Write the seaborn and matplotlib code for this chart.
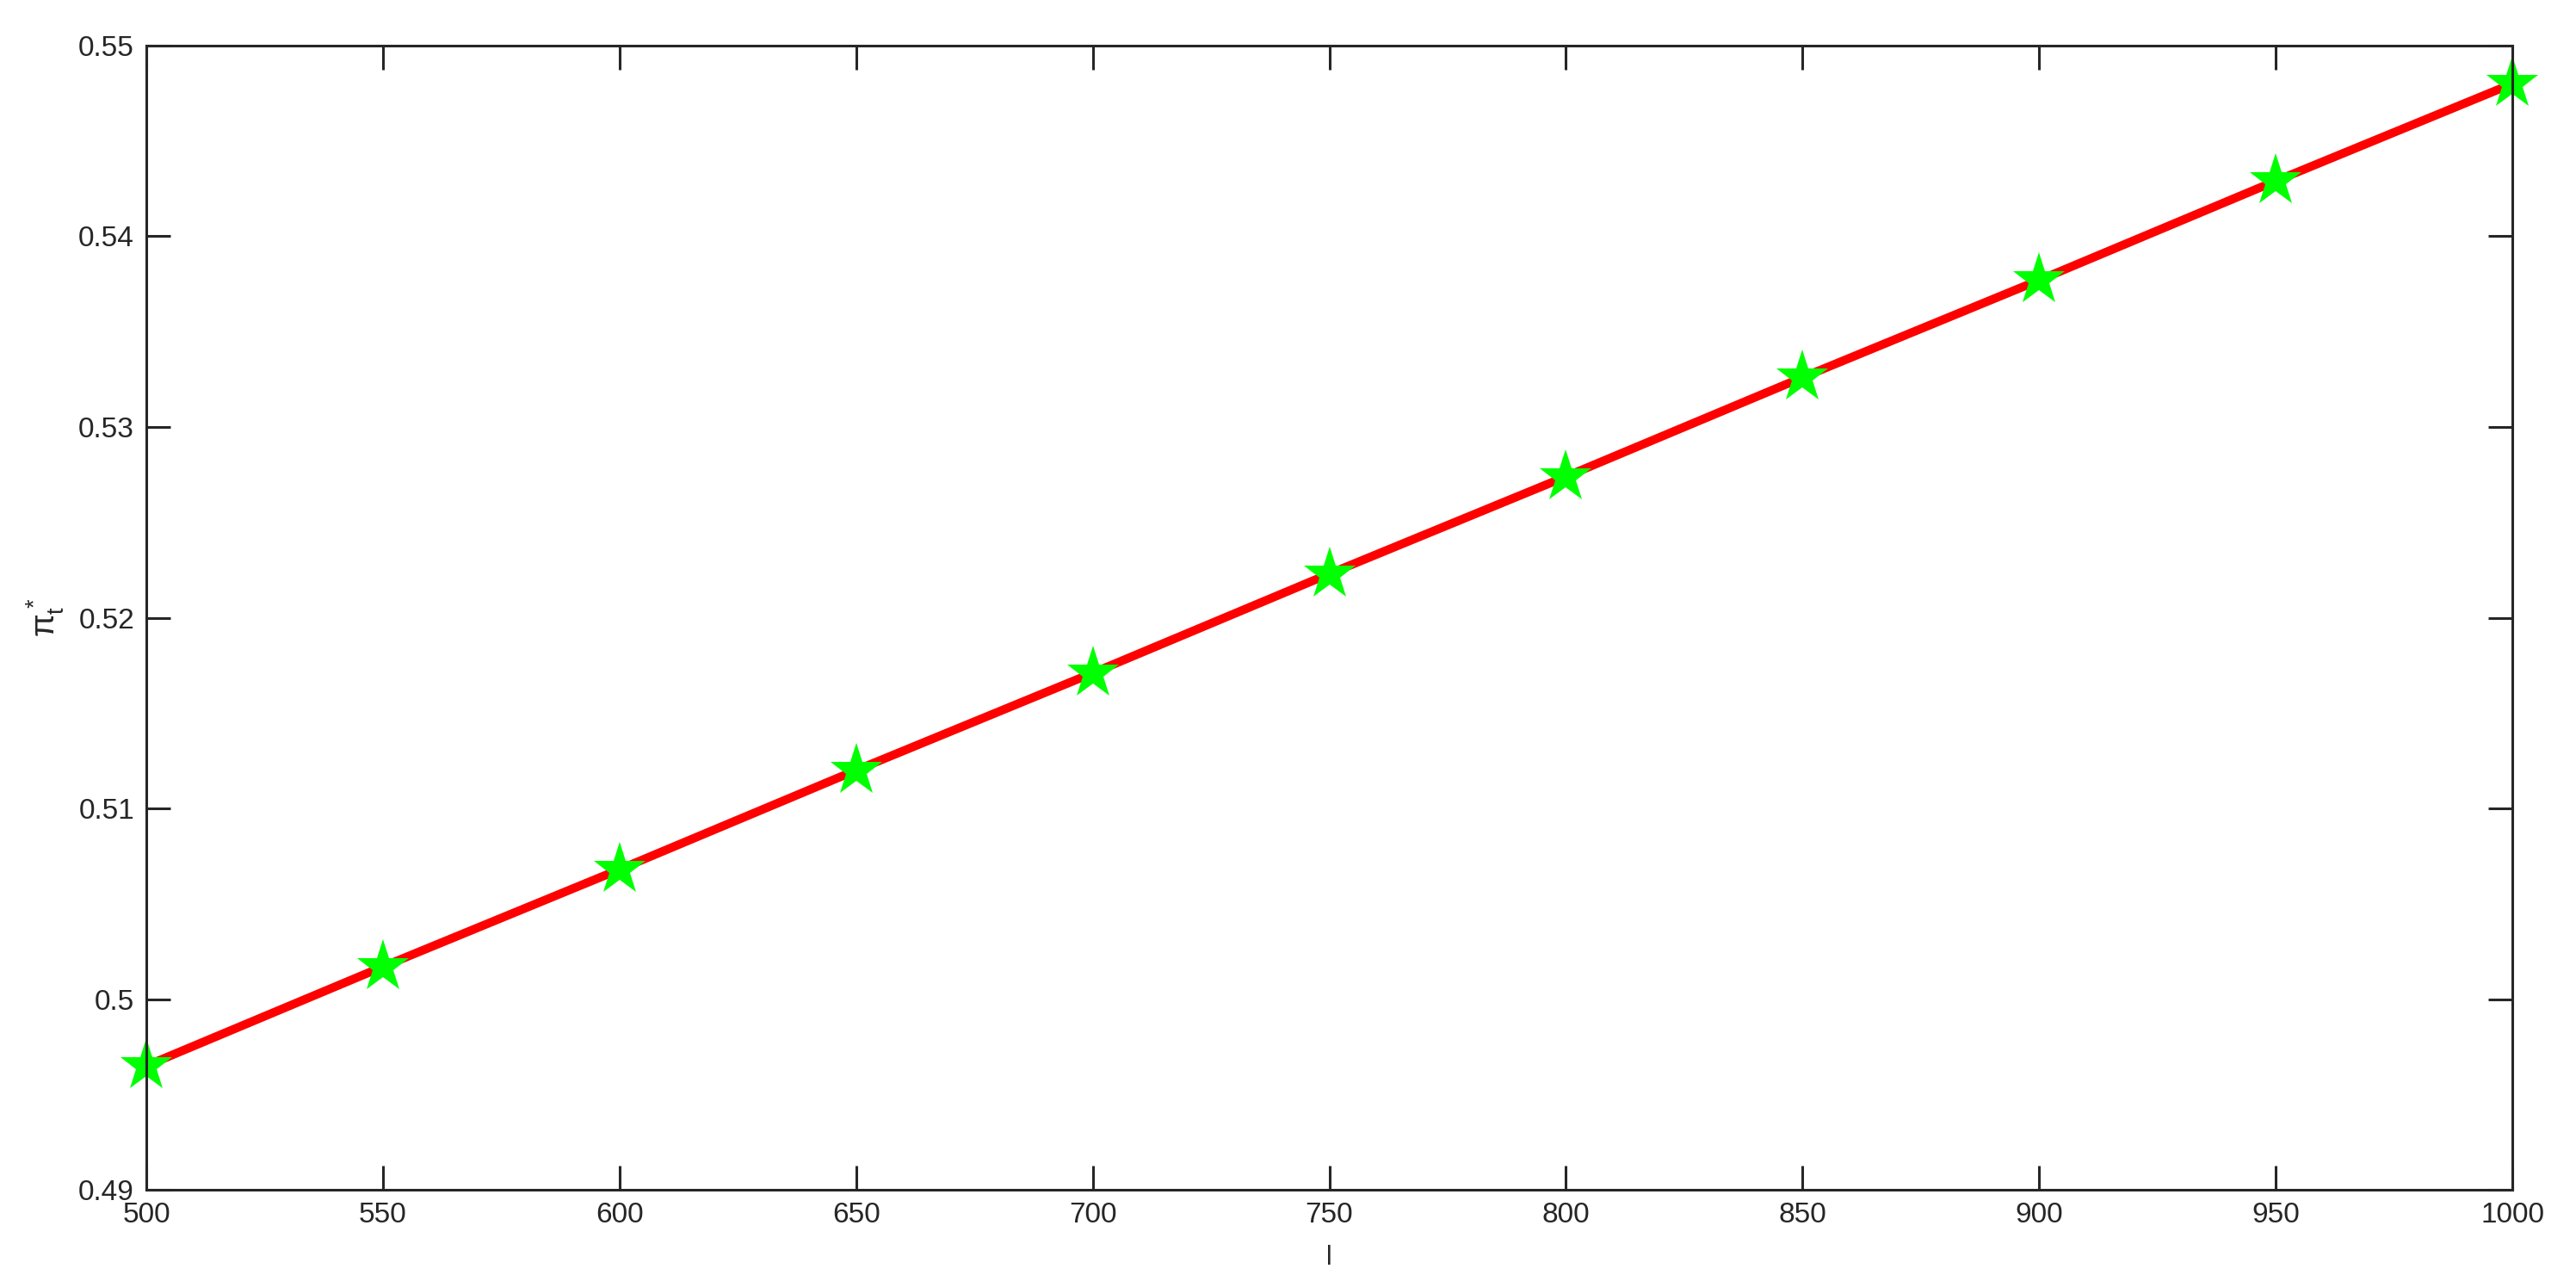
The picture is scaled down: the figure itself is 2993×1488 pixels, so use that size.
import numpy as np
import pandas as pd
import matplotlib
matplotlib.use('Agg')
import matplotlib.pyplot as plt
import seaborn as sns

# values
t_vals = [500, 550, 600, 650, 700, 750, 800, 850, 900, 950, 1000]
pi_star = [0.4965, 0.5017, 0.5068, 0.5120, 0.5171, 0.5223, 0.5274, 0.5326, 0.5377, 0.5429, 0.5480]
x_ticks = [500, 550, 600, 650, 700, 750, 800, 850, 900, 950, 1000]
y_ticks = [0.49, 0.50, 0.51, 0.52, 0.53, 0.54, 0.55]
y_tick_labels = ['0.49', '0.5', '0.51', '0.52', '0.53', '0.54', '0.55']

sns.set_theme(style='ticks')
plt.rcParams['font.family'] = ['Liberation Sans', 'DejaVu Sans']
plt.rcParams['mathtext.fontset'] = 'custom'
plt.rcParams['mathtext.rm'] = 'Liberation Sans'
plt.rcParams['mathtext.it'] = 'Liberation Sans'

df = pd.DataFrame({'t': t_vals, 'pi': pi_star})

fig = plt.figure(figsize=(29.93, 14.88), dpi=100)
ax = fig.add_axes([0.0568, 0.0712, 0.9185, 0.8932])

sns.lineplot(data=df, x='t', y='pi', ax=ax, color='#ff0000', lw=7.2,
             marker='*', markersize=46, markerfacecolor='#00ff00',
             markeredgecolor='#00ff00', markeredgewidth=0, clip_on=False)

ax.set_xlim(500, 1000)
ax.set_ylim(0.49, 0.55)
ax.set_xticks(x_ticks)
ax.set_xticklabels([str(v) for v in x_ticks])
ax.set_yticks(y_ticks)
ax.set_yticklabels(y_tick_labels)

for s in ax.spines.values():
    s.set_visible(True)
    s.set_linewidth(2.2)
    s.set_color('#262626')
ax.tick_params(direction='in', length=20, width=2.2, color='#262626',
               labelsize=24, labelcolor='#262626',
               top=True, right=True, pad=10)

ax.set_xlabel('l', fontsize=22, color='#262626', labelpad=14)
ax.set_ylabel(r'$\pi^*_t$', fontsize=28, color='#262626', labelpad=10)

fig.savefig('out.png', dpi=100)
